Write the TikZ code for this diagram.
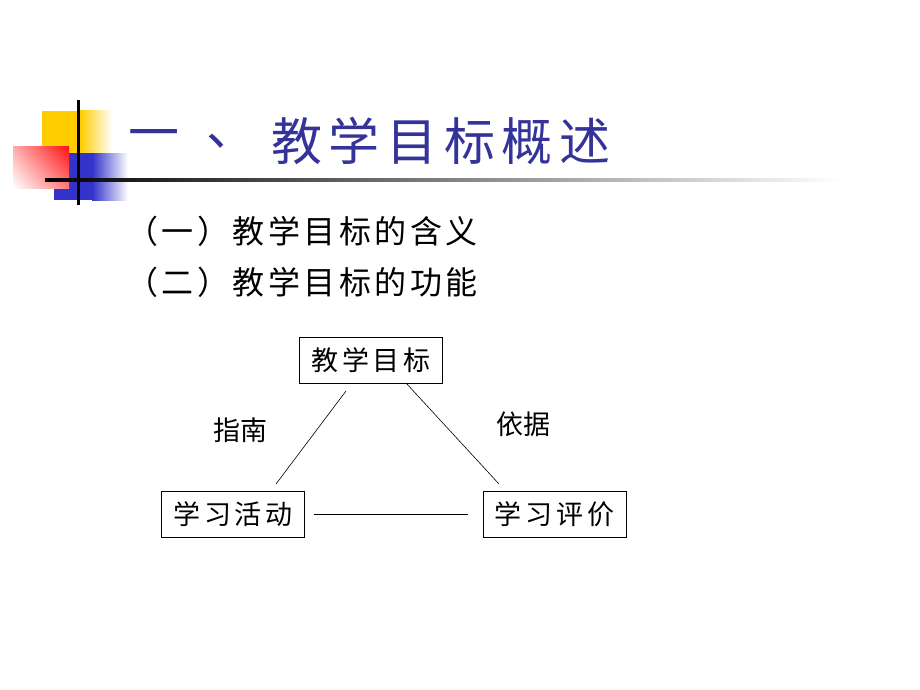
\documentclass[tikz,border=0pt]{standalone}
\usepackage{fontspec}
\usetikzlibrary{shadings}
\newfontfamily\cjk{Noto Sans CJK SC}
\newfontfamily\cjksp[LetterSpace=14]{Noto Sans CJK SC}
\newfontfamily\cjksub[LetterSpace=11]{Noto Sans CJK SC}
\definecolor{titleblue}{HTML}{333399}
\definecolor{sqyellow}{HTML}{FFCC00}
\definecolor{sqblue}{HTML}{3333CC}
\definecolor{sqred}{HTML}{FF1010}
\begin{document}
\begin{tikzpicture}[x=1pt,y=-1pt,
  box/.style={draw, line width=0.8pt, minimum width=143pt, minimum height=46pt, inner sep=0pt,
    font=\cjksp\fontsize{27}{30}\selectfont},
  conn/.style={draw, line width=0.6pt},
  lab/.style={font=\cjk\fontsize{27}{30}\selectfont},
  sub/.style={anchor=west, font=\cjksub\fontsize{32}{36}\selectfont}]
\useasboundingbox (0,0) rectangle (920,690);
% decoration squares
\fill[sqyellow] (42,111) rectangle (80,153);
\shade[left color=sqyellow, right color=white] (80,111) rectangle (112,153);
\fill[sqblue] (54,153) rectangle (92,200);
\shade[left color=sqblue, right color=white] (92,153) rectangle (128,200);
\shade[upper right=sqred, upper left=sqred!35, lower right=sqred!55, lower left=white] (13,146) rectangle (69,188);
\shade[left color=black, right color=white] (45,178.5) rectangle (840,181.5);
\fill[black] (76.5,100) rectangle (79.5,205);
% title
\node[text=titleblue, font=\cjk\fontsize{51}{56}\selectfont] (t1) at (154,141) {一};
\node[text=titleblue, font=\cjk\fontsize{51}{56}\selectfont] (t2) at (232,141) {、};
\node[text=titleblue, anchor=west, inner sep=0pt, font=\cjk\fontsize{51}{56}\selectfont,
  ] (t3) at (271,141) {\addfontfeature{LetterSpace=13}教学目标概述};
% subtitles
\node[sub, inner sep=0pt] (s1) at (126,231) {（一）教学目标的含义};
\node[sub, inner sep=0pt] (s2) at (126,282) {（二）教学目标的功能};
% diagram
\node[box] (goal) at (371,360.5) {教学目标};
\node[box] (act) at (233,514.5) {学习活动};
\node[box] (eval) at (554.5,514.5) {学习评价};
\coordinate (g1) at (346,391);
\coordinate (a1) at (276,484);
\coordinate (g2) at (406,383);
\coordinate (e1) at (499,484);
\coordinate (a2) at (314,514);
\coordinate (e2) at (468,514);
\draw[conn] (g1) -- (a1);
\draw[conn] (g2) -- (e1);
\draw[conn] (a2) -- (e2);
\node[lab] (l1) at (240,430) {指南};
\node[lab] (l2) at (523,424) {依据};
\end{tikzpicture}
\end{document}
